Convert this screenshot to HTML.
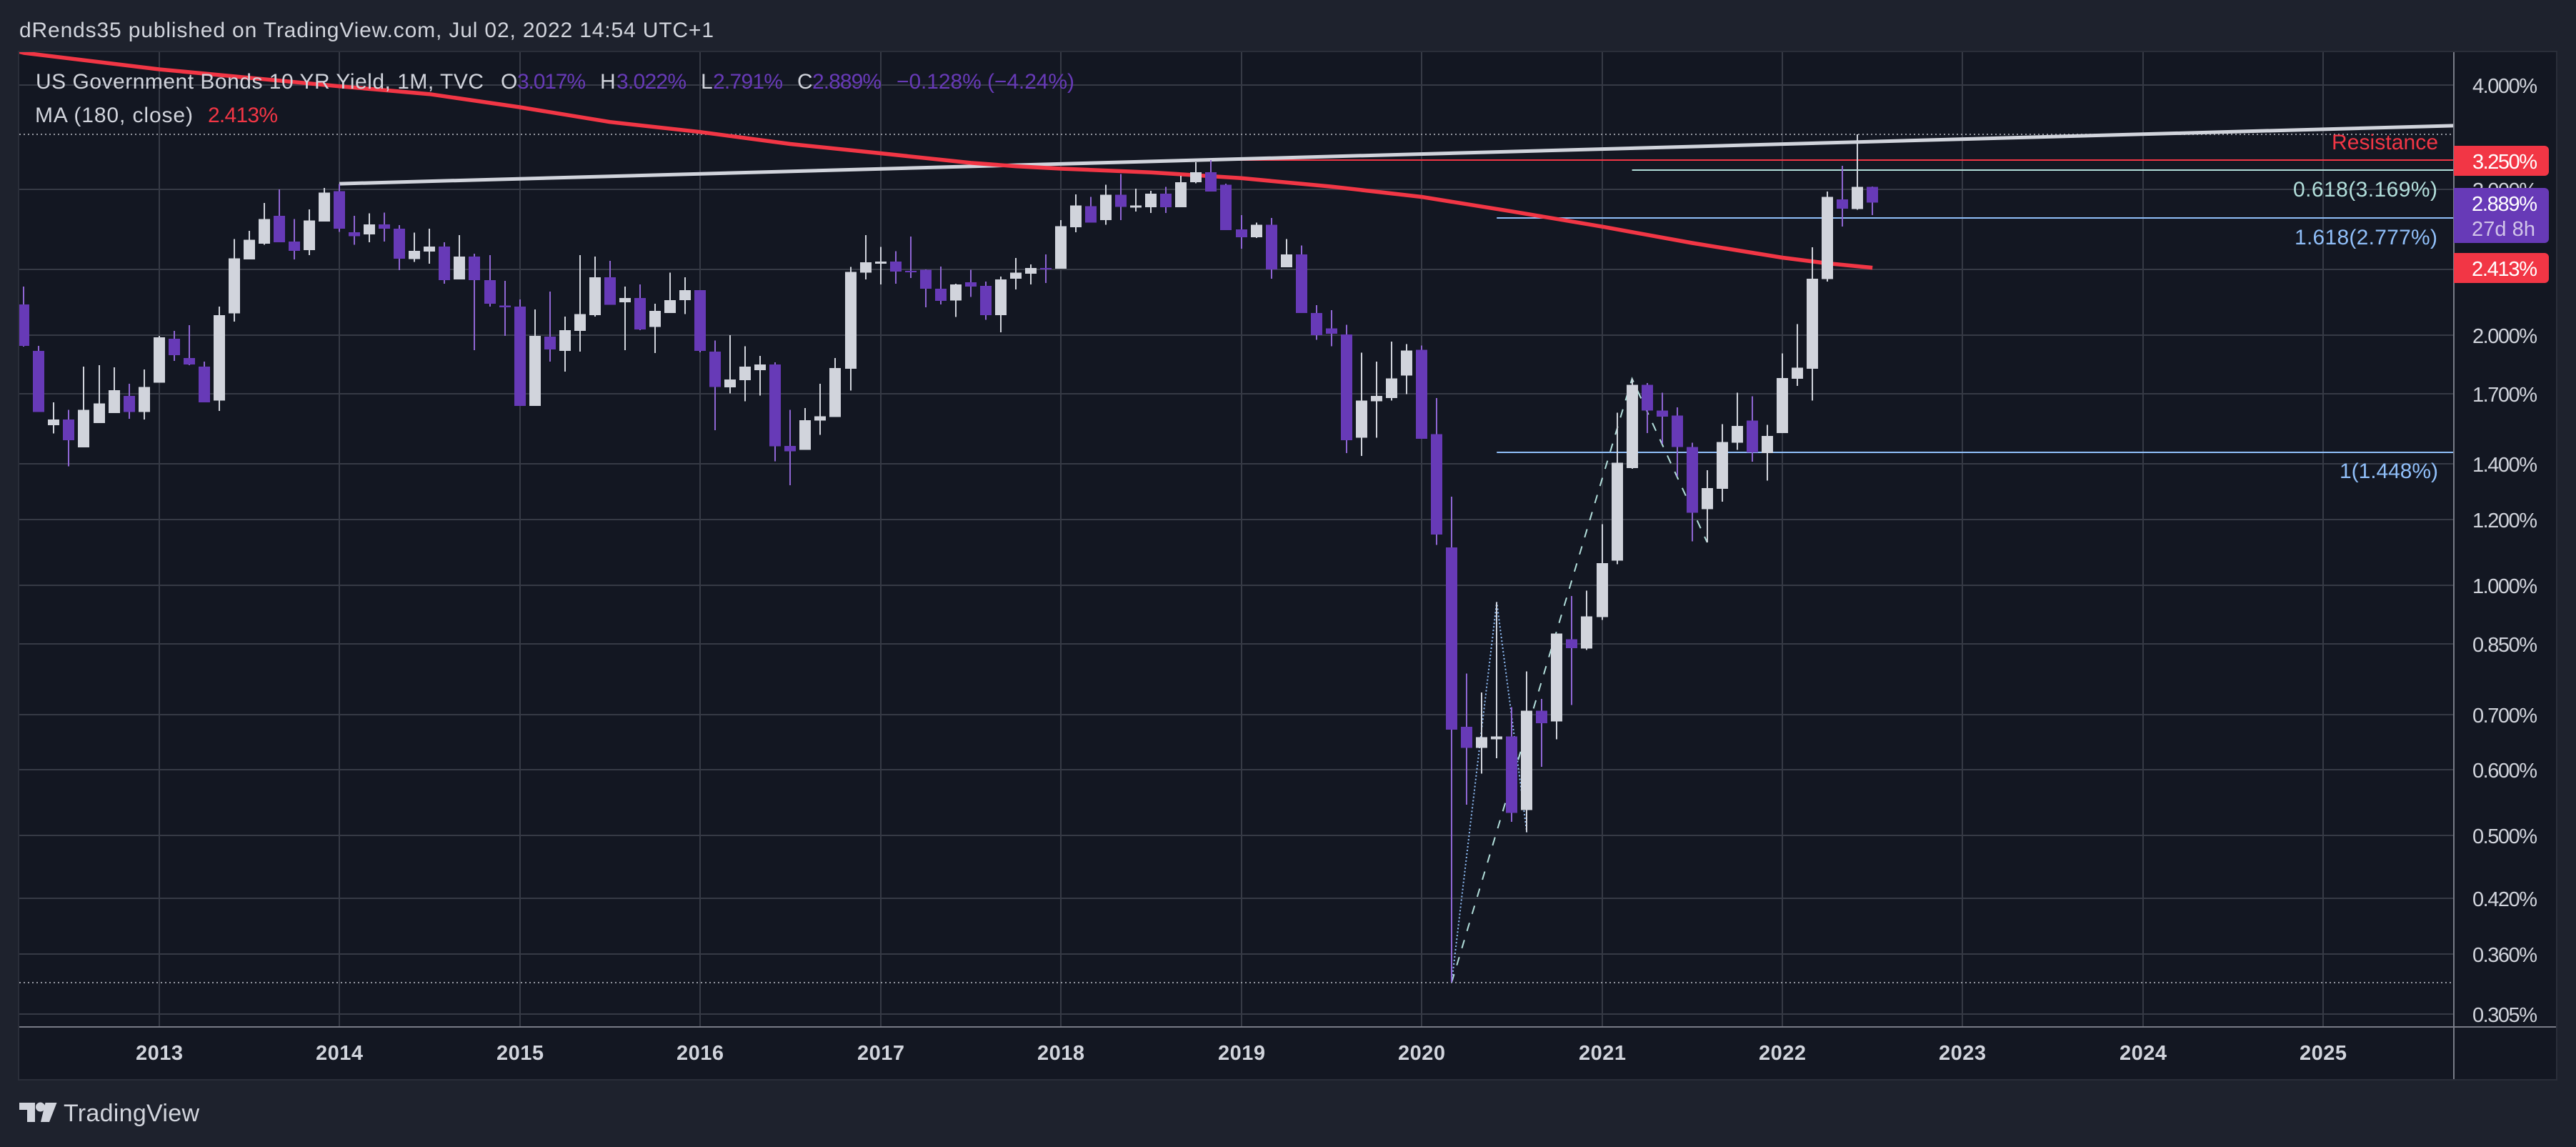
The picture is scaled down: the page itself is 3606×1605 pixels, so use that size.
<!DOCTYPE html>
<html lang="en">
<head>
<meta charset="utf-8">
<title>US Government Bonds 10 YR Yield chart</title>
<style>
html,body{margin:0;padding:0;background:#1e222d;width:3606px;height:1605px;overflow:hidden}
svg{display:block}
text{font-family:"Liberation Sans",sans-serif}
</style>
</head>
<body>
<svg id="chart" xmlns="http://www.w3.org/2000/svg" width="3606" height="1605" viewBox="0 0 3606 1605">
  <defs><clipPath id="plotClip"><rect x="27" y="73" width="3408" height="1364"/></clipPath></defs>
  <rect width="3606" height="1605" fill="#1e222d"/>
  <rect x="26" y="72" width="3553" height="1439" fill="#131722" stroke="#2a2e39" stroke-width="2"/>
  <text x="27" y="52" font-size="30" fill="#d1d4dc" textLength="972">dRends35 published on TradingView.com, Jul 02, 2022 14:54 UTC+1</text>

  <g id="gridLayer"></g>
  <g id="plotLayer" clip-path="url(#plotClip)"></g>
  <g id="xAxisLayer"></g>
  <rect x="27" y="1436" width="3551" height="2" fill="#787b86"/>
  <rect x="3434" y="73" width="2" height="1437" fill="#787b86"/>
  <g id="yAxisLayer"></g>

  <text x="50" y="124" font-size="30" fill="#d1d4dc" textLength="627">US Government Bonds 10 YR Yield, 1M, TVC</text>
  <text x="701" y="124" font-size="30" fill="#d1d4dc" textLength="21">O</text>
  <text x="724" y="124" font-size="30" fill="#673ab7" textLength="96">3.017%</text>
  <text x="840" y="124" font-size="30" fill="#d1d4dc" textLength="21">H</text>
  <text x="863" y="124" font-size="30" fill="#673ab7" textLength="98">3.022%</text>
  <text x="981" y="124" font-size="30" fill="#d1d4dc" textLength="16">L</text>
  <text x="998" y="124" font-size="30" fill="#673ab7" textLength="98">2.791%</text>
  <text x="1116" y="124" font-size="30" fill="#d1d4dc" textLength="19">C</text>
  <text x="1137" y="124" font-size="30" fill="#673ab7" textLength="97">2.889%</text>
  <text x="1255" y="124" font-size="30" fill="#673ab7" textLength="249">−0.128% (−4.24%)</text>
  <text x="49" y="171" font-size="30" fill="#d1d4dc" textLength="221">MA (180, close)</text>
  <text x="291" y="171" font-size="30" fill="#f23645" textLength="98">2.413%</text>

  <text x="3264" y="209" font-size="30" fill="#f23645" textLength="149">Resistance</text>
  <text x="3210" y="275" font-size="30" fill="#b2dfdb" textLength="202">0.618(3.169%)</text>
  <text x="3212" y="342" font-size="30" fill="#90bff9" textLength="200">1.618(2.777%)</text>
  <text x="3275" y="669" font-size="30" fill="#90bff9" textLength="138">1(1.448%)</text>

  <path d="M3435 204H3562a6 6 0 0 1 6 6V240a6 6 0 0 1-6 6H3435Z" fill="#f23645"/>
  <text x="3461" y="236" font-size="29" fill="#ffffff" textLength="91">3.250%</text>
  <path d="M3435 263H3562a6 6 0 0 1 6 6V334a6 6 0 0 1-6 6H3435Z" fill="#673ab7"/>
  <text x="3460" y="295" font-size="29" fill="#ffffff" textLength="92">2.889%</text>
  <text x="3460" y="330" font-size="29" fill="#d1c4e9" textLength="89">27d 8h</text>
  <path d="M3435 354H3562a6 6 0 0 1 6 6V390a6 6 0 0 1-6 6H3435Z" fill="#f23645"/>
  <text x="3460" y="386" font-size="29" fill="#ffffff" textLength="92">2.413%</text>

  <g>
    <path d="M27 1543H49V1570H38V1553H27Z" fill="#d1d4dc"/>
    <circle cx="56.5" cy="1549" r="6.5" fill="#d1d4dc"/>
    <path d="M63.5 1543H79.5L69 1570H57Z" fill="#d1d4dc"/>
    <text x="89" y="1569" font-size="34" fill="#d1d4dc" textLength="190">TradingView</text>
  </g>
</svg>

<script>
// Monthly OHLC in percent, one entry per bar, starting April 2012.
const opens = [
  2.180,1.916,1.560,1.585,1.467,1.569,1.613,1.692,1.617,1.754,
  1.982,1.879,1.835,1.669,2.125,2.470,2.580,2.787,2.595,2.533,
  2.743,2.982,2.663,2.647,2.721,2.689,2.470,2.523,2.559,2.336,
  2.489,2.332,2.172,2.167,1.645,1.994,1.916,2.026,2.116,2.350,
  2.193,2.219,2.047,2.129,2.206,2.268,1.913,1.733,1.767,1.817,
  1.846,1.473,1.456,1.579,1.595,1.824,2.379,2.440,2.454,2.393,
  2.398,2.276,2.202,2.318,2.294,2.116,2.341,2.374,2.412,2.407,
  2.700,2.860,2.754,2.952,2.849,2.854,2.963,2.854,3.059,3.145,
  3.035,2.684,2.625,2.717,2.417,2.503,2.129,2.039,2.006,1.506,
  1.666,1.682,1.789,1.921,1.521,1.111,0.6765,0.6376,0.6533,0.6585,
  0.5371,0.7069,0.6861,0.8617,0.8397,0.9168,1.071,1.385,1.744,1.624,
  1.601,1.468,1.236,1.308,1.486,1.579,1.444,1.526,1.774,1.824,
  2.337,2.916,2.838,3.017
];
const highs = [
  2.291,1.942,1.662,1.627,1.835,1.842,1.831,1.750,1.820,1.998,
  2.026,2.058,1.860,2.167,2.611,2.673,2.887,2.999,2.760,2.837,
  3.011,3.041,2.787,2.804,2.810,2.715,2.658,2.689,2.590,2.642,
  2.509,2.499,2.327,2.210,2.150,2.259,2.108,2.499,2.489,2.460,
  2.291,2.304,2.184,2.379,2.350,2.268,1.971,2.002,1.940,1.890,
  1.857,1.627,1.636,1.750,1.878,2.417,2.641,2.555,2.525,2.631,
  2.402,2.421,2.308,2.398,2.322,2.355,2.479,2.435,2.504,2.754,
  2.957,2.935,3.035,3.127,3.004,2.986,3.017,3.114,3.233,3.252,
  3.047,2.792,2.733,2.770,2.611,2.566,2.176,2.145,2.060,1.907,
  1.860,1.967,1.952,1.945,1.682,1.279,0.7838,0.7434,0.9553,0.7138,
  0.7880,0.7308,0.8752,0.9717,0.9858,1.185,1.614,1.774,1.752,1.706,
  1.639,1.485,1.377,1.564,1.706,1.689,1.561,1.903,2.064,2.554,
  2.980,3.199,3.491,3.022
];
const lows = [
  1.939,1.617,1.524,1.391,1.467,1.569,1.613,1.588,1.585,1.754,
  1.864,1.842,1.662,1.623,2.078,2.470,2.570,2.590,2.470,2.499,
  2.743,2.663,2.570,2.590,2.595,2.397,2.451,2.441,2.309,2.336,
  1.920,2.167,1.998,1.645,1.645,1.860,1.809,1.913,2.108,2.176,
  1.920,2.030,1.905,2.129,2.121,1.909,1.538,1.703,1.666,1.693,
  1.411,1.321,1.456,1.518,1.595,1.716,2.336,2.303,2.308,2.346,
  2.163,2.180,2.104,2.224,2.088,2.018,2.272,2.303,2.313,2.407,
  2.663,2.733,2.717,2.754,2.820,2.808,2.808,2.854,3.047,2.980,
  2.678,2.544,2.620,2.341,2.417,2.129,1.975,1.940,1.444,1.432,
  1.506,1.670,1.699,1.502,1.119,0.333,0.5448,0.5939,0.6198,0.5198,
  0.5048,0.6055,0.6533,0.7182,0.8367,0.9093,1.061,1.382,1.526,1.482,
  1.353,1.130,1.127,1.262,1.456,1.409,1.337,1.526,1.739,1.669,
  2.322,2.704,2.833,2.791
];
const closes = [
  1.942,1.617,1.585,1.496,1.627,1.656,1.719,1.617,1.733,1.990,
  1.894,1.845,1.662,2.116,2.475,2.606,2.760,2.590,2.528,2.749,
  2.970,2.689,2.632,2.721,2.689,2.475,2.528,2.559,2.332,2.489,
  2.332,2.184,2.163,1.645,1.998,1.924,2.030,2.121,2.350,2.176,
  2.219,2.034,2.141,2.206,2.268,1.917,1.733,1.770,1.835,1.846,
  1.471,1.450,1.582,1.598,1.828,2.384,2.449,2.454,2.388,2.384,
  2.276,2.202,2.303,2.290,2.116,2.336,2.379,2.412,2.402,2.706,
  2.866,2.733,2.952,2.854,2.866,2.963,2.854,3.059,3.145,2.980,
  2.678,2.625,2.717,2.402,2.503,2.129,2.002,2.009,1.496,1.670,
  1.692,1.776,1.918,1.502,1.152,0.671,0.6376,0.6568,0.6585,0.5328,
  0.7069,0.6829,0.8752,0.8412,0.9184,1.0644,1.406,1.744,1.624,1.597,
  1.468,1.224,1.310,1.488,1.557,1.447,1.514,1.778,1.829,2.341,
  2.937,2.842,3.018,2.889
];

// 180-period moving average, read at selected bars.
const maBars = [-1,0,9,21,27,33,39,45,51,57,63,66,69,75,81,87,93,99,105,111,117,120,123];
const maValues = [4.42,4.376,4.181,3.989,3.903,3.764,3.613,3.514,3.399,3.313,3.226,3.196,3.175,3.142,3.092,3.021,2.936,2.820,2.704,2.584,2.481,2.442,2.413];

// Axis ticks.
const priceTicks = [4,3,2.4,2,1.7,1.4,1.2,1,0.85,0.7,0.6,0.5,0.42,0.36,0.305];
const yearLabels = ["2013","2014","2015","2016","2017","2018","2019","2020","2021","2022","2023","2024","2025"];
const yearBars = [9,21,33,45,57,69,81,93,105,117,129,141,153];

// User drawings, anchored on bars and prices.
const trendBars = [21,161.7];
const trendValues = [3.045,3.577];
const resistanceLevel = 3.25;
const resistanceStartBar = 79;
const fibLevels = [3.169,2.777,1.448];
const fibStartBars = [107,98,98];
const fibZigzagBars = [95,107,112];
const fibZigzagValues = [0.333,1.774,1.127];
const trendFibBars = [95,98,100];
const trendFibValues = [0.333,0.9553,0.5048];

const SVG_NS = "http://www.w3.org/2000/svg";
const plotRight = 3435;
const plotLeft = 27;
const plotTop = 73;
const plotBottom = 1437;

function xOfBar(i){ return 33.3 + 21.04 * i; }
function yOfPrice(p){ return 819.4 - 505 * Math.log(p); }

function make(tag, parent, attrs){
  const el = document.createElementNS(SVG_NS, tag);
  for (const k in attrs) el.setAttribute(k, attrs[k]);
  parent.appendChild(el);
  return el;
}
function polyPoints(bars, values){
  return bars.map((b, i) => xOfBar(b).toFixed(1) + "," + yOfPrice(values[i]).toFixed(1)).join(" ");
}

const gridLayer = document.getElementById("gridLayer");
const plotLayer = document.getElementById("plotLayer");
const xAxisLayer = document.getElementById("xAxisLayer");
const yAxisLayer = document.getElementById("yAxisLayer");

// Grid and axis labels
priceTicks.forEach(function(p){
  const y = Math.round(yOfPrice(p));
  const g = make("rect", gridLayer, {x: plotLeft, y: y - 1, width: plotRight - plotLeft, height: 2, fill: "#363a45"});
  
  
  const t = make("text", yAxisLayer, {x: 3461, y: y + 11, "font-size": 29, fill: "#d1d4dc", textLength: 91});
  t.textContent = p.toFixed(3) + "%";
  
  
});
yearBars.forEach(function(b, i){
  const x = Math.round(xOfBar(b));
  const g = make("rect", gridLayer, {x: x - 1, y: plotTop, width: 2, height: plotBottom - plotTop, fill: "#363a45"});
  
  
  const t = make("text", xAxisLayer, {x: x - 33, y: 1483, "font-size": 29, "font-weight": "bold", fill: "#d1d4dc", textLength: 66});
  t.textContent = yearLabels[i];
  
  
});

// High / low of the visible range
const rangeHigh = Math.max.apply(null, highs);
const rangeLow = Math.min.apply(null, lows);
[rangeHigh, rangeLow].forEach(function(p, i){
  const y = Math.round(yOfPrice(p));
  const l = make("line", plotLayer, {x1: plotLeft, x2: plotRight, y1: y, y2: y, stroke: "#9598a1", "stroke-width": 2, "stroke-dasharray": "2 4"});
  
  
});

// Drawings
const resistanceLine = make("line", plotLayer, {x1: xOfBar(resistanceStartBar), x2: plotRight, y1: Math.round(yOfPrice(resistanceLevel)), y2: Math.round(yOfPrice(resistanceLevel)), stroke: "#f23645", "stroke-width": 2});



const fibColors = ["#b2dfdb", "#90bff9", "#90bff9"];
fibLevels.forEach(function(p, i){
  const y = Math.round(yOfPrice(p)) + 1;
  const l = make("line", plotLayer, {x1: xOfBar(fibStartBars[i]), x2: plotRight, y1: y, y2: y, stroke: fibColors[i], "stroke-width": 2});
  
  
});

const zigzag = make("polyline", plotLayer, {points: polyPoints(fibZigzagBars, fibZigzagValues), fill: "none", stroke: "#b2dfdb", "stroke-width": 2, "stroke-dasharray": "12 13"});



const dottedPath = make("polyline", plotLayer, {points: polyPoints(trendFibBars, trendFibValues), fill: "none", stroke: "#90bff9", "stroke-width": 2, "stroke-dasharray": "2 3"});



const trendLine = make("polyline", plotLayer, {points: polyPoints(trendBars, trendValues), fill: "none", stroke: "#d1d4dc", "stroke-width": 5});



// Moving average
const maLine = make("polyline", plotLayer, {points: polyPoints(maBars, maValues), fill: "none", stroke: "#f23645", "stroke-width": 5.5, "stroke-linejoin": "round"});



// Candles
opens.forEach(function(open, i){
  const close = closes[i];
  const up = close >= open;
  const cx = xOfBar(i);
  const yHigh = yOfPrice(highs[i]);
  const yLow = yOfPrice(lows[i]);
  const yTop = yOfPrice(Math.max(open, close));
  const yBot = yOfPrice(Math.min(open, close));
  const wick = make("rect", plotLayer, {x: Math.round(cx) - 1, y: yHigh.toFixed(1), width: 2, height: (yLow - yHigh).toFixed(1), fill: up ? "#d1d4dc" : "#8f66d4", "shape-rendering": "crispEdges"});
  
  
  const body = make("rect", plotLayer, {x: Math.round(cx) - 8, y: yTop.toFixed(1), width: 16, height: Math.max(yBot - yTop, 2).toFixed(1), fill: up ? "#d1d4dc" : "#673ab7", "shape-rendering": "crispEdges"});
  
  
});
</script>
</body>
</html>
